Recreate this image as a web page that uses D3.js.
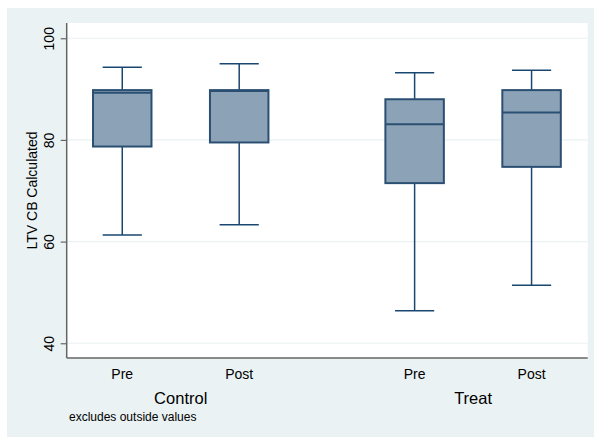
<!DOCTYPE html>
<html>
<head>
<meta charset="utf-8">
<script src="https://cdn.jsdelivr.net/npm/d3@7.9.0/dist/d3.min.js"></script>
<style>
  body { margin: 0; background: #fff; }
  svg { display: block; font-family: "Liberation Sans", Arial, sans-serif; }
</style>
</head>
<body>
<svg width="595" height="437"></svg>
<script>
// box plot values
const groups = ['Control', 'Control', 'Treat', 'Treat'];
const periods = ['Pre', 'Post', 'Pre', 'Post'];
const lowWhisker = [61.3, 63.3, 46.4, 51.4];
const q1 = [78.7, 79.5, 71.5, 74.7];
const median = [89.3, 89.6, 83.1, 85.4];
const q3 = [89.8, 89.8, 88.0, 89.8];
const highWhisker = [94.3, 95.0, 93.2, 93.7];
const yTicks = [40, 60, 80, 100];

const navy = '#1a476f';
const svg = d3.select('svg');

// outer background
svg.append('rect')
  .attr('x', 7).attr('y', 8)
  .attr('width', 587).attr('height', 429)
  .attr('fill', '#eaf2f3');

const plot = { left: 66.7, right: 587.7, top: 23, bottom: 358 };

svg.append('rect')
  .attr('x', plot.left).attr('y', plot.top)
  .attr('width', plot.right - plot.left).attr('height', plot.bottom - plot.top)
  .attr('fill', '#fff');

const y = d3.scaleLinear().domain([37.1, 103]).range([plot.bottom, plot.top]);

// slot index: group gap is 1.5 slots
const groupNames = Array.from(new Set(groups));
const slot = groups.map((g, i) => groupNames.indexOf(g) * 2.5 + (i % 2));
const x = d3.scaleLinear().domain([-0.475, 3.98]).range([plot.left, plot.right]);
const step = x(1) - x(0);

// grid lines
svg.append('g').selectAll('line').data(yTicks).join('line')
  .attr('x1', plot.left).attr('x2', plot.right)
  .attr('y1', d => y(d)).attr('y2', d => y(d))
  .attr('stroke', '#eaf2f3').attr('stroke-width', 1.2);

// y axis
const yAxis = svg.append('g')
  .attr('transform', `translate(${plot.left},0)`)
  .call(d3.axisLeft(y).tickValues(yTicks).tickSize(6).tickSizeOuter(0).tickPadding(0));
yAxis.select('.domain').remove();
yAxis.selectAll('line').attr('stroke', '#666').attr('stroke-width', 1.2);
yAxis.selectAll('text')
  .attr('font-size', 14).attr('fill', '#000')
  .attr('text-anchor', 'middle').attr('dy', 0).attr('x', 0)
  .attr('transform', d => `translate(-12.7,0) rotate(-90)`)
  .attr('y', 0);

// axis lines
svg.append('line')
  .attr('x1', plot.left).attr('x2', plot.left)
  .attr('y1', plot.top).attr('y2', plot.bottom)
  .attr('stroke', '#666').attr('stroke-width', 1.5);
svg.append('line')
  .attr('x1', plot.left).attr('x2', plot.right)
  .attr('y1', plot.bottom).attr('y2', plot.bottom)
  .attr('stroke', '#666').attr('stroke-width', 1.5);

// boxes
const boxes = svg.append('g').selectAll('g').data(periods).join('g')
  .attr('transform', (d, i) => `translate(${x(slot[i])},0)`);

const boxW = step * 0.5;
const capW = step * 0.335;

boxes.append('line')
  .attr('y1', (d, i) => y(highWhisker[i])).attr('y2', (d, i) => y(q3[i]))
  .attr('stroke', navy).attr('stroke-width', 1.5);
boxes.append('line')
  .attr('y1', (d, i) => y(q1[i])).attr('y2', (d, i) => y(lowWhisker[i]))
  .attr('stroke', navy).attr('stroke-width', 1.5);
boxes.append('line')
  .attr('x1', -capW / 2).attr('x2', capW / 2)
  .attr('y1', (d, i) => y(highWhisker[i])).attr('y2', (d, i) => y(highWhisker[i]))
  .attr('stroke', navy).attr('stroke-width', 1.5);
boxes.append('line')
  .attr('x1', -capW / 2).attr('x2', capW / 2)
  .attr('y1', (d, i) => y(lowWhisker[i])).attr('y2', (d, i) => y(lowWhisker[i]))
  .attr('stroke', navy).attr('stroke-width', 1.5);
boxes.append('rect')
  .attr('x', -boxW / 2).attr('width', boxW)
  .attr('y', (d, i) => y(q3[i])).attr('height', (d, i) => y(q1[i]) - y(q3[i]))
  .attr('fill', '#8ca3b7').attr('stroke', '#2b4f72').attr('stroke-width', 2);
boxes.append('line')
  .attr('x1', -boxW / 2).attr('x2', boxW / 2)
  .attr('y1', (d, i) => y(median[i])).attr('y2', (d, i) => y(median[i]))
  .attr('stroke', '#2b4f72').attr('stroke-width', 2);

// category labels
boxes.append('text')
  .attr('y', 379).attr('text-anchor', 'middle')
  .attr('font-size', 14).attr('fill', '#000')
  .text(d => d);

// group labels
svg.append('g').selectAll('text').data(groupNames).join('text')
  .attr('x', g => d3.mean(slot.filter((s, i) => groups[i] === g), s => x(s)))
  .attr('y', 404).attr('text-anchor', 'middle')
  .attr('font-size', 16.5).attr('fill', '#000')
  .text(g => g);

// y title
svg.append('text')
  .attr('transform', `translate(37,${(plot.top + plot.bottom) / 2}) rotate(-90)`)
  .attr('text-anchor', 'middle').attr('font-size', 14).attr('fill', '#000')
  .text('LTV CB Calculated');

// note
svg.append('text')
  .attr('x', 69).attr('y', 421)
  .attr('font-size', 12).attr('fill', '#000')
  .text('excludes outside values');
</script>
</body>
</html>
